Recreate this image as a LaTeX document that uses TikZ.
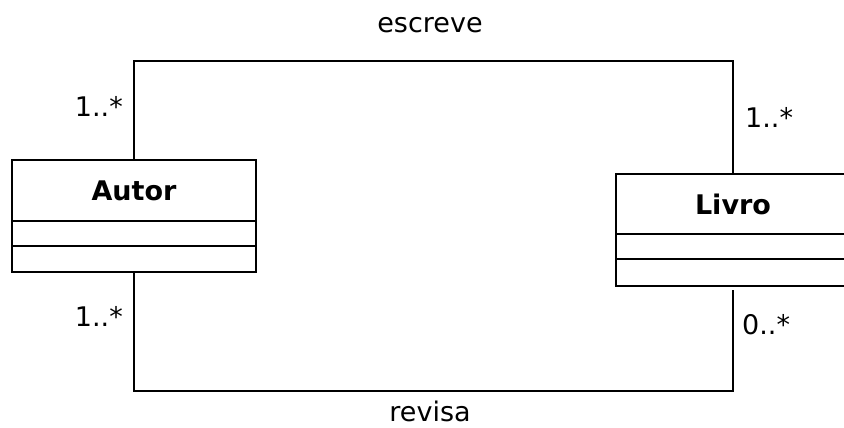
\documentclass[tikz,border=0pt]{standalone}
\usepackage{fontspec}
\setmainfont{DejaVu Sans}
\usetikzlibrary{positioning}

\tikzstyle{classname} = [draw, rectangle, line width=2pt, minimum width=244pt,
    minimum height=61pt, inner sep=0pt, outer sep=0pt, font=\bfseries\fontsize{27}{30}\selectfont]
\tikzstyle{compartment} = [draw, rectangle, line width=2pt, minimum width=244pt,
    minimum height=25pt, inner sep=0pt, outer sep=0pt]
\tikzstyle{mult} = [inner sep=0pt, font=\fontsize{27}{30}\selectfont]
\tikzstyle{assoc} = [line width=2pt]
\tikzstyle{coord} = [coordinate]

\begin{document}
\begin{tikzpicture}[x=1pt, y=-1pt]
    \useasboundingbox (0,0) rectangle (844,428);
    \clip (0,0) rectangle (844,428);

    % Autor class
    \node (autor) [classname] at (134,190.5) {Autor};
    \node (autorattr) [compartment, below=0pt of autor] {};
    \node (autorops) [compartment, minimum height=26pt, below=0pt of autorattr] {};

    % Livro class, cut off at the right edge
    \node (livro) [classname, minimum width=234pt, minimum height=60pt] at (733,204) {Livro};
    \node (livroattr) [compartment, minimum width=234pt, below=0pt of livro] {};
    \node (livroops) [compartment, minimum width=234pt, minimum height=27pt, below=0pt of livroattr] {};

    % associations
    \node (escrevey) [coord] at (0,61) {};
    \node (revisay) [coord] at (0,391) {};
    \draw [assoc] (autor.north) |- (livro.north |- escrevey) -- (livro.north);
    \draw [assoc, shorten >=4pt] (autorops.south) |- (livroops.south |- revisay) -- (livroops.south);

    \node (escreve) [mult, anchor=base] at (430,33) {escreve};
    \node (revisa) [mult, anchor=base] at (430,421) {revisa};

    % multiplicities
    \node (multautorescreve) [mult, anchor=base east] at (123,117) {1..*};
    \node (multlivroescreve) [mult, anchor=base west] at (745,128) {1..*};
    \node (multautorrevisa) [mult, anchor=base east] at (123,326) {1..*};
    \node (multlivrorevisa) [mult, anchor=base west] at (742,334) {0..*};
\end{tikzpicture}
\end{document}
